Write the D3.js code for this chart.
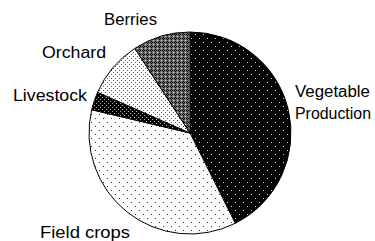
<!DOCTYPE html>
<html><head><meta charset="utf-8">
<script src="https://cdn.jsdelivr.net/npm/d3@7"></script>
<style>html,body{margin:0;padding:0;background:#fff;}svg{display:block;}</style>
</head><body>
<script>
const categories = ["Vegetable Production", "Field crops", "Livestock", "Orchard", "Berries"];
const values = [42.6, 36.1, 2.9, 9.2, 9.2];
const labelLines = [["Vegetable", "Production"], ["Field crops"], ["Livestock"], ["Orchard"], ["Berries"]];

const W = 375, H = 241;
const cx = 190, cy = 133, R = 101;

const svg = d3.select("body").append("svg").attr("width", W).attr("height", H);
const defs = svg.append("defs");

function pat(id, size, bg, dots) {
  const p = defs.append("pattern").attr("id", id).attr("patternUnits", "userSpaceOnUse")
    .attr("width", size).attr("height", size);
  p.append("rect").attr("width", size).attr("height", size).attr("fill", bg);
  dots.forEach(d => p.append("rect").attr("x", d[0]).attr("y", d[1]).attr("width", d[3] || 1).attr("height", d[3] || 1).attr("fill", d[2]));
}
pat("pVeg", 8, "#000", [[1, 1, "#ddd"], [5, 5, "#ddd"]]);
pat("pField", 8, "#fff", [[1, 1, "#333"], [5, 5, "#333"]]);
pat("pLive", 4, "#000", [[0, 0, "#bbb"], [2, 2, "#bbb"]]);
pat("pOrch", 4, "#fff", [[1, 1, "#555"], [3, 3, "#555"]]);
pat("pBerr", 4, "#6e6e6e", [[1, 0, "#000"], [0, 1, "#000"], [2, 1, "#000"], [1, 2, "#000"], [3, 3, "#ddd"]]);
const fills = ["url(#pVeg)", "url(#pField)", "url(#pLive)", "url(#pOrch)", "url(#pBerr)"];

const pie = d3.pie().sort(null).value(d => d)(values);
const arc = d3.arc().innerRadius(0).outerRadius(R);

const g = svg.append("g").attr("transform", `translate(${cx},${cy})`);
g.selectAll("path").data(pie).join("path")
  .attr("d", arc)
  .attr("fill", (d, i) => fills[i])
  .attr("stroke", "#000").attr("stroke-width", 1);

// labels: left x, baseline y, textLength per line
const labelPos = [
  [[295, 96.5, 75], [295, 118.5, 76]],
  [[40, 238, 90]],
  [[13, 101, 74]],
  [[42, 58, 64]],
  [[104, 25, 53]]
];
labelLines.forEach((lines, i) => {
  lines.forEach((t, j) => {
    const p = labelPos[i][j];
    svg.append("text").attr("x", p[0]).attr("y", p[1])
      .attr("font-family", "Liberation Sans, Arial, sans-serif")
      .attr("font-size", 16).attr("fill", "#000")
      .attr("textLength", p[2]).attr("lengthAdjust", "spacingAndGlyphs")
      .text(t);
  });
});
</script>
</body></html>
